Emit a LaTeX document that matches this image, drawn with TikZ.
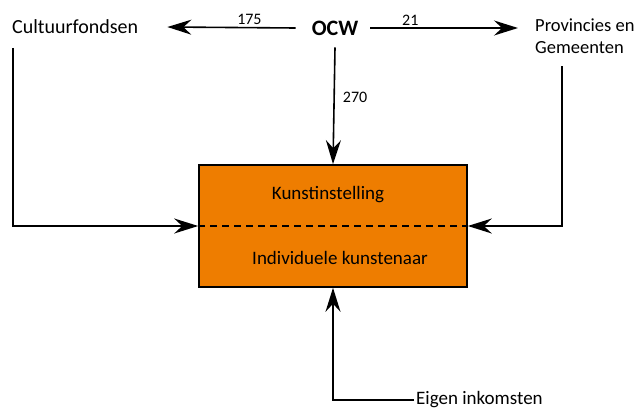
\documentclass[tikz,border=0pt]{standalone}
\usepackage{fontspec}
\setmainfont{Carlito}
\usepackage{tikz}
\usetikzlibrary{arrows.meta}
\definecolor{box-orange}{HTML}{EE7D00}
\tikzset{
    org-label/.style = {font=\fontsize{20}{22}\selectfont, inner sep=2pt},
    flow-label/.style = {font=\fontsize{16}{18}\selectfont, inner sep=2pt},
    flow-arrow/.style = {draw, line width=1.6pt, -{Stealth[length=24pt, width=15pt, inset=8pt]}},
    main-box/.style = {draw, fill=box-orange, line width=1.6pt, rectangle, minimum width=268pt, minimum height=122pt},
    box-text/.style = {font=\fontsize{19}{22}\selectfont},
}

\begin{document}
\begin{tikzpicture}[x=1pt, y=-1pt]
\useasboundingbox (0,0) rectangle (639,412);
\node [org-label, anchor=west] (fondsen) at (10,27) {Cultuurfondsen};
\node [org-label, font=\fontsize{22}{24}\selectfont\bfseries] (ocw) at (335,28) {OCW};
\node [org-label, font=\fontsize{18.5}{22}\selectfont, anchor=west, align=left] (gemeenten) at (533,36) {Provincies en\\Gemeenten};
\node [main-box] (box) at (333,226) {};
\draw [line width=1.4pt, dashed, dash pattern=on 7pt off 5pt] (box.west) -- (box.east);
\node [box-text] (kunst) at (328,195) {Kunstinstelling};
\node [box-text] (indiv) at (340,258) {Individuele kunstenaar};
\node [org-label, font=\fontsize{19}{22}\selectfont, anchor=west] (eigen) at (414,400) {Eigen inkomsten};
\coordinate (fondsen-start) at (13,48);
\coordinate (gemeenten-start) at (562,66);

\draw [flow-arrow] ([xshift=-14pt]ocw.west) -- node[flow-label, pos=0.36, above] {175} ([xshift=27pt]fondsen.east);
\draw [flow-arrow] ([xshift=10pt]ocw.east) -- node[flow-label, pos=0.27, above] {21} ([xshift=-15pt]gemeenten.west |- ocw.east);
\draw [flow-arrow] ([yshift=-10pt]ocw.south) -- node[flow-label, pos=0.43, right=6pt] {270} (box.north);
\draw [flow-arrow] (fondsen-start) |- (box.west);
\draw [flow-arrow] (gemeenten-start) |- (box.east);
\draw [flow-arrow] (eigen.west) -| (box.south);
\end{tikzpicture}
\end{document}
